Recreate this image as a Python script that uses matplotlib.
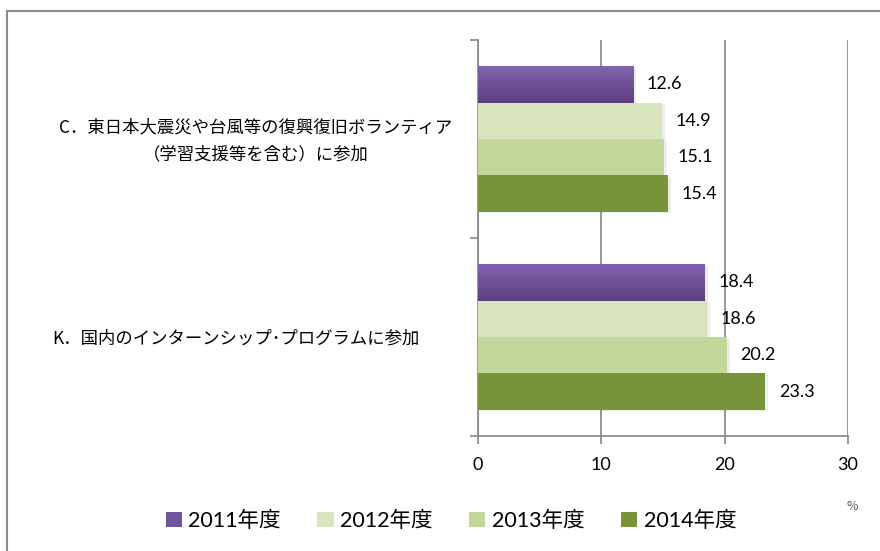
import numpy as np
import matplotlib
matplotlib.use("Agg")
import matplotlib.pyplot as plt
from matplotlib.patches import Patch
from matplotlib.lines import Line2D
import matplotlib.transforms as mtransforms

plt.rcParams['font.family'] = ['Noto Sans CJK JP', 'DejaVu Sans']

# Data
categories = ["K．国内のインターンシップ･プログラムに参加",
              "C．東日本大震災や台風等の復興復旧ボランティア\n（学習支援等を含む）に参加"]
label_x = [236, 256]  # horizontal centre of each category label, in pixels
years = ["2011年度", "2012年度", "2013年度", "2014年度"]
values = {
    "2011年度": [18.4, 12.6],
    "2012年度": [18.6, 14.9],
    "2013年度": [20.2, 15.1],
    "2014年度": [23.3, 15.4],
}
colors = ["#7153a0", "#d8e4bc", "#c4d79b", "#77933c"]
x_ticks = [0, 10, 20, 30]

W, H = 880, 551
fig = plt.figure(figsize=(W / 100, H / 100), dpi=100)
ax = fig.add_axes([478 / W, 1 - 436 / H, 370 / W, 396 / H])

bar_h = 0.184
y_base = np.arange(len(categories))
grid_color = "#868686"

for i, yr in enumerate(years):
    ypos = y_base + (1.5 - i) * bar_h
    bars = ax.barh(ypos, values[yr], height=bar_h, color=colors[i],
                   edgecolor="none", zorder=3)
    for rect, v in zip(bars, values[yr]):
        # soft drop shadow
        ax.barh(rect.get_y() + bar_h / 2 - 0.008, v + 0.25, height=bar_h,
                color="#000000", alpha=0.07, edgecolor="none", zorder=2)
        if i == 0:
            # vertical gradient on the purple bars
            grad = np.linspace(0, 1, 64).reshape(-1, 1)
            cmap = matplotlib.colors.LinearSegmentedColormap.from_list(
                "pg", ["#5d4080", "#8262ae"])
            im = ax.imshow(grad, cmap=cmap, aspect="auto", origin="lower",
                           extent=[0, v, rect.get_y(), rect.get_y() + bar_h],
                           zorder=4)
            im.set_clip_path(rect)
        ax.text(v + 1.1, rect.get_y() + bar_h / 2, f"{v:.1f}",
                va="center", ha="left", fontsize=13,
                family=["Lato", "DejaVu Sans"], color="#000000", zorder=5)

ax.set_xlim(0, 30)
ax.set_ylim(-0.5, 1.5)
ax.set_xticks(x_ticks)
ax.set_xticklabels([str(t) for t in x_ticks], fontsize=13,
                   family=["Lato", "DejaVu Sans"])
ax.set_yticks([-0.5, 0.5, 1.5])
ax.set_yticklabels([])
ax.tick_params(axis="both", direction="out", length=6, color=grid_color,
               width=1.2)
ax.tick_params(axis="x", pad=9)
ax.xaxis.grid(True, color=grid_color, linewidth=1.2, zorder=0)
ax.set_axisbelow(True)
for s in ["top", "right"]:
    ax.spines[s].set_visible(False)
for s in ["left", "bottom"]:
    ax.spines[s].set_color(grid_color)
    ax.spines[s].set_linewidth(1.2)

# category labels left of the plot
trans = mtransforms.blended_transform_factory(fig.transFigure, ax.transData)
for yc, lab, lx in zip(y_base, categories, label_x):
    ax.text(lx / W, yc - 0.01, lab, transform=trans, ha="center", va="center",
            fontsize=12.5, linespacing=1.6, multialignment="center")

# legend
handles = [Patch(facecolor=c, edgecolor="none") for c in colors]
fig.legend(handles, years, loc="center", bbox_to_anchor=(451 / W, 1 - 521 / H),
           ncol=4, frameon=False, handlelength=0.75,
           handleheight=0.75, handletextpad=0.3, columnspacing=1.7,
           prop={"family": ["Lato", "Noto Sans CJK JP"], "size": 15.5})

fig.text(852 / W, 1 - 506 / H, "%", ha="center", va="center", fontsize=9,
         color="#595959")

# outer frame (left and top edges)
frame_c = "#8c8c8c"
fig.add_artist(Line2D([7 / W, 7 / W], [0, 1 - 11 / H], color=frame_c,
                      linewidth=1.5, transform=fig.transFigure))
fig.add_artist(Line2D([7 / W, 1], [1 - 11 / H, 1 - 11 / H], color=frame_c,
                      linewidth=1.5, transform=fig.transFigure))

fig.savefig("out.png", dpi=100, facecolor="white")
